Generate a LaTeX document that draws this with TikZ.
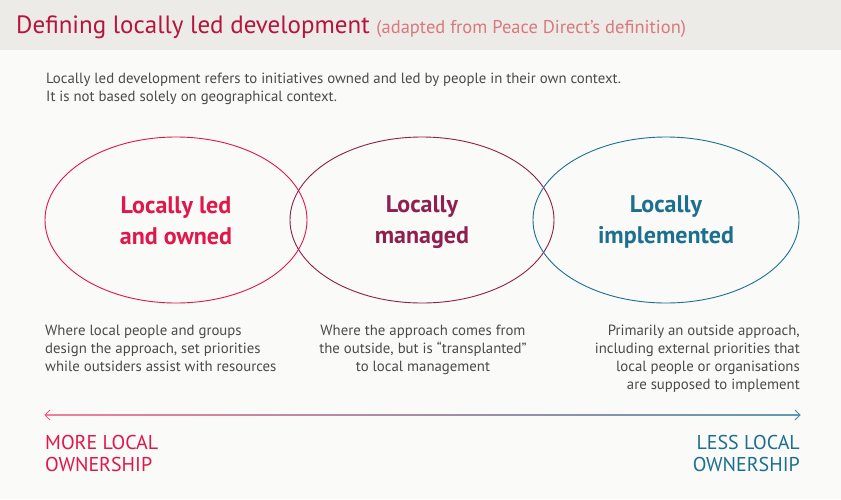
\documentclass[tikz,border=0pt]{standalone}
\usepackage{fontspec}
\setmainfont{PT Sans}
\usetikzlibrary{positioning}
\definecolor{hdrbg}{HTML}{EDEBE7}
\definecolor{pagebg}{HTML}{FAFAF8}
\definecolor{ledred}{HTML}{E0174A}
\definecolor{titlered}{HTML}{B5143C}
\definecolor{subred}{HTML}{D9797E}
\definecolor{mgdred}{HTML}{8E1F4E}
\definecolor{implteal}{HTML}{1C6F8E}
\definecolor{bodygray}{HTML}{4A4A4A}
\tikzset{
  circ/.style={line width=0.9pt},
  big/.style={font=\fontsize{24}{31}\selectfont\bfseries, align=center},
  desc/.style={font=\fontsize{14.8}{18}\selectfont, text=bodygray},
  own/.style={font=\fontsize{20}{22}\selectfont, align=left}
}
\begin{document}
\begin{tikzpicture}[x=1pt,y=-1pt]
  \useasboundingbox (0,0) rectangle (841,499);
  \fill[pagebg] (0,0) rectangle (841,499);
  \fill[hdrbg] (0,0) rectangle (841,50);
  % title
  \node[anchor=west, inner sep=0] (title) at (16,27) {\fontsize{25}{28}\selectfont\color{titlered}Defining locally led development \fontsize{18.5}{20}\selectfont\color{subred}(adapted from Peace Direct’s definition)};
  \node[desc, anchor=north west, inner sep=0, align=left] (intro) at (46,73) {Locally led development refers to initiatives owned and led by people in their own context.\\It is not based solely on geographical context.};
  % circles
  \draw[circ, ledred] (176,220) ellipse (131 and 83);
  \draw[circ, mgdred] (422,220) ellipse (132 and 83);
  \draw[circ, implteal] (666,220) ellipse (133 and 83);
  \node[big, text=ledred] (owned) at (176,221) {Locally led\\and owned};
  \node[big, text=mgdred] (managed) at (422,222) {Locally\\managed};
  \node[big, text=implteal] (impl) at (666,222) {Locally\\implemented};
  % descriptions
  \node[desc, align=left, anchor=north west, inner sep=0] (dOwned) at (45,325) {Where local people and groups\\design the approach, set priorities\\while outsiders assist with resources};
  \node[desc, align=center, anchor=north, inner sep=0] (dManaged) at (423,325) {Where the approach comes from\\the outside, but is “transplanted”\\to local management};
  \node[desc, align=right, anchor=north east, inner sep=0] (dImpl) at (800,325) {Primarily an outside approach,\\including external priorities that\\local people or organisations\\are supposed to implement};
  % scale
  \coordinate (sL) at (45,415);
  \coordinate (sR) at (800,415);
  \shade[left color=ledred!55, right color=implteal!70] (45,414.4) rectangle (800,415.6);
  \draw[ledred!70, line width=0.8pt] ([shift={(5,-5)}]sL) -- (sL) -- ([shift={(5,5)}]sL);
  \draw[implteal!80, line width=0.8pt] ([shift={(-5,-5)}]sR) -- (sR) -- ([shift={(-5,5)}]sR);
  \node[own, text=ledred, anchor=north west, inner sep=0] (more) at (45,435) {MORE LOCAL\\OWNERSHIP};
  \node[own, text=implteal, anchor=north east, inner sep=0, align=right] (less) at (800,435) {LESS LOCAL\\OWNERSHIP};
\end{tikzpicture}
\end{document}
